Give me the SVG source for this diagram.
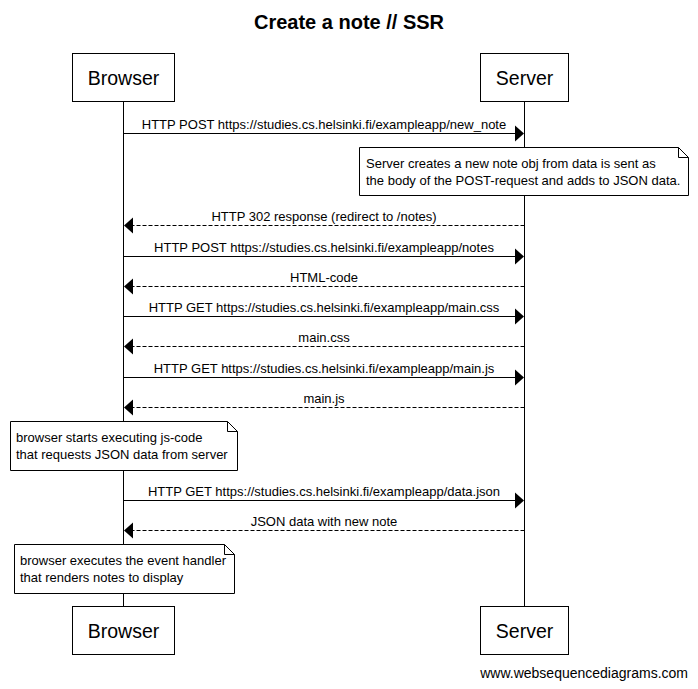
<svg xmlns="http://www.w3.org/2000/svg" width="698" height="689" viewBox="0 0 698 689">
<defs>
<style>
text{font-family:"Liberation Sans",Arial,sans-serif;fill:#000}
.title{font-size:20px;font-weight:bold;text-anchor:middle}
.actor{font-size:19.5px;text-anchor:middle}
.lbl{font-size:13px;text-anchor:middle}
.nt{font-size:13px}
.wm{font-size:14px;text-anchor:end}
.box{fill:#fff;stroke:#000;stroke-width:1}
.life{stroke:#000;stroke-width:1;fill:none}
.msg{stroke:#000;stroke-width:1;fill:none}
.ret{stroke:#000;stroke-width:1;fill:none;stroke-dasharray:4,2}
.head{fill:#000}
.note{fill:#fff;stroke:#000;stroke-width:1}
.fold{fill:none;stroke:#000;stroke-width:1}
</style>
</defs>
<rect width="698" height="689" fill="#fff"/>
<text class="title" x="349" y="29">Create a note // SSR</text>

<g id="lifelines">
<line class="life" x1="123.5" y1="102" x2="123.5" y2="606"/>
<line class="life" x1="524.5" y1="102" x2="524.5" y2="606"/>
</g>

<g id="browser-top">
<rect class="box" x="72.5" y="53.5" width="102" height="48"/>
<text class="actor" x="123.5" y="85">Browser</text>
</g>
<g id="server-top">
<rect class="box" x="480.5" y="53.5" width="88" height="48"/>
<text class="actor" x="524.5" y="85">Server</text>
</g>
<g id="browser-bottom">
<rect class="box" x="72.5" y="606.5" width="102" height="48"/>
<text class="actor" x="123.5" y="638">Browser</text>
</g>
<g id="server-bottom">
<rect class="box" x="480.5" y="606.5" width="88" height="48"/>
<text class="actor" x="524.5" y="638">Server</text>
</g>

<g id="connectors">
<line class="msg" x1="123.5" y1="133.5" x2="516" y2="133.5"/>
<polygon class="head" points="524,133.5 515,125.5 515,141.5"/>
<text class="lbl" x="324" y="128.5">HTTP POST https://studies.cs.helsinki.fi/exampleapp/new_note</text>

<line class="ret" x1="524.5" y1="225.5" x2="132" y2="225.5"/>
<polygon class="head" points="124,225.5 133,217.5 133,233.5"/>
<text class="lbl" x="324" y="220.5">HTTP 302 response (redirect to /notes)</text>

<line class="msg" x1="123.5" y1="256.5" x2="516" y2="256.5"/>
<polygon class="head" points="524,256.5 515,248.5 515,264.5"/>
<text class="lbl" x="324" y="251.5">HTTP POST https://studies.cs.helsinki.fi/exampleapp/notes</text>

<line class="ret" x1="524.5" y1="286.5" x2="132" y2="286.5"/>
<polygon class="head" points="124,286.5 133,278.5 133,294.5"/>
<text class="lbl" x="324" y="281.5">HTML-code</text>

<line class="msg" x1="123.5" y1="316.5" x2="516" y2="316.5"/>
<polygon class="head" points="524,316.5 515,308.5 515,324.5"/>
<text class="lbl" x="324" y="311.5">HTTP GET https://studies.cs.helsinki.fi/exampleapp/main.css</text>

<line class="ret" x1="524.5" y1="346.5" x2="132" y2="346.5"/>
<polygon class="head" points="124,346.5 133,338.5 133,354.5"/>
<text class="lbl" x="324" y="341.5">main.css</text>

<line class="msg" x1="123.5" y1="377.5" x2="516" y2="377.5"/>
<polygon class="head" points="524,377.5 515,369.5 515,385.5"/>
<text class="lbl" x="324" y="372.5">HTTP GET https://studies.cs.helsinki.fi/exampleapp/main.js</text>

<line class="ret" x1="524.5" y1="407.5" x2="132" y2="407.5"/>
<polygon class="head" points="124,407.5 133,399.5 133,415.5"/>
<text class="lbl" x="324" y="402.5">main.js</text>

<line class="msg" x1="123.5" y1="500.5" x2="516" y2="500.5"/>
<polygon class="head" points="524,500.5 515,492.5 515,508.5"/>
<text class="lbl" x="324" y="495.5">HTTP GET https://studies.cs.helsinki.fi/exampleapp/data.json</text>

<line class="ret" x1="524.5" y1="530.5" x2="132" y2="530.5"/>
<polygon class="head" points="124,530.5 133,522.5 133,538.5"/>
<text class="lbl" x="324" y="525.5">JSON data with new note</text>
</g>

<g id="note-server">
<path class="note" d="M359.5,147.5 H678.5 L688.5,157.5 V195.5 H359.5 Z"/>
<path class="fold" d="M678.5,147.5 V157.5 H688.5"/>
<text class="nt" x="366" y="168">Server creates a new note obj from data is sent as</text>
<text class="nt" x="366" y="185">the body of the POST-request and adds to JSON data.</text>
</g>

<g id="note-js">
<path class="note" d="M10.5,421.5 H227.5 L237.5,431.5 V470.5 H10.5 Z"/>
<path class="fold" d="M227.5,421.5 V431.5 H237.5"/>
<text class="nt" x="16" y="442">browser starts executing js-code</text>
<text class="nt" x="16" y="459">that requests JSON data from server</text>
</g>

<g id="note-render">
<path class="note" d="M14.5,544.5 H224.5 L234.5,554.5 V593.5 H14.5 Z"/>
<path class="fold" d="M224.5,544.5 V554.5 H234.5"/>
<text class="nt" x="20" y="565">browser executes the event handler</text>
<text class="nt" x="20" y="582">that renders notes to display</text>
</g>

<text class="wm" x="688" y="678">www.websequencediagrams.com</text>
</svg>
